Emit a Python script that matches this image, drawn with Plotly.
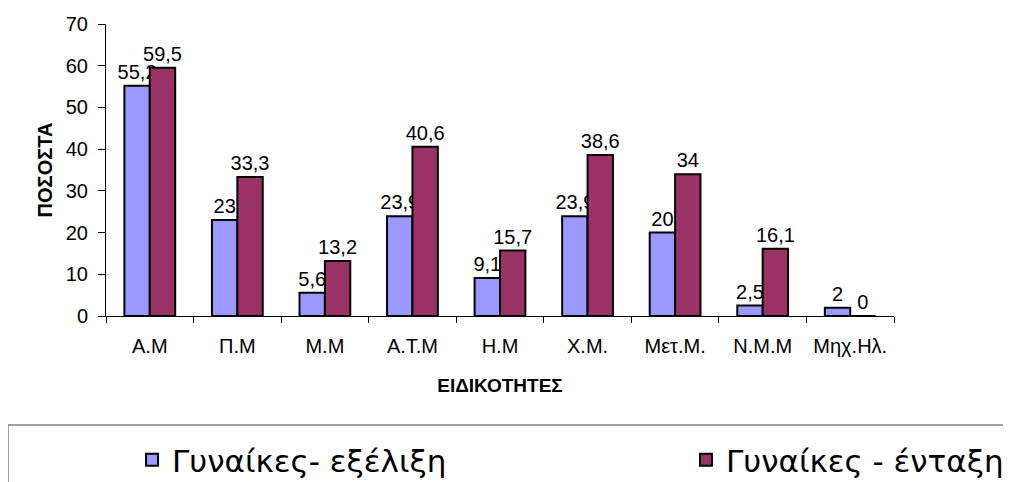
import plotly.graph_objects as go

categories = ["Α.Μ", "Π.Μ", "Μ.Μ", "Α.Τ.Μ", "Η.Μ", "Χ.Μ.", "Μετ.Μ.", "Ν.Μ.Μ", "Μηχ.Ηλ."]
exelixi = [55.2, 23, 5.6, 23.9, 9.1, 23.9, 20, 2.5, 2]
entaxi = [59.5, 33.3, 13.2, 40.6, 15.7, 38.6, 34, 16.1, 0]
y_ticks = [0, 10, 20, 30, 40, 50, 60, 70]


def fmt(v):
    return f"{v:g}".replace(".", ",")


FONT = "Liberation Sans, Arial, sans-serif"
LEG_FONT = "DejaVu Sans, Verdana, sans-serif"

fig = go.Figure()
fig.add_trace(go.Bar(
    x=categories, y=exelixi, name="Γυναίκες- εξέλιξη",
    marker=dict(color="#9999FF", line=dict(color="black", width=2)),
    text=[fmt(v) for v in exelixi], textposition="outside", constraintext="none",
    textfont=dict(size=20, color="black", family=FONT), cliponaxis=False,
    legend="legend",
))
fig.add_trace(go.Bar(
    x=categories, y=entaxi, name="Γυναίκες - ένταξη",
    marker=dict(color="#993366", line=dict(color="black", width=2)),
    text=[fmt(v) for v in entaxi], textposition="outside", constraintext="none",
    textfont=dict(size=20, color="black", family=FONT), cliponaxis=False,
    legend="legend2",
))

leg_common = dict(
    orientation="h", yref="container", xref="container",
    y=0.0622, yanchor="middle", xanchor="left",
    font=dict(size=31, family=LEG_FONT, color="black"),
    bgcolor="rgba(0,0,0,0)", borderwidth=0,
)

fig.update_layout(
    width=1011, height=482,
    margin=dict(l=98, r=125, t=16, b=174, autoexpand=False),
    paper_bgcolor="white", plot_bgcolor="white",
    barmode="group", bargap=0.42, bargroupgap=0,
    font=dict(family=FONT, size=20, color="black"),
    showlegend=True,
    legend=dict(x=0.1227, **leg_common),
    legend2=dict(x=0.6706, **leg_common),
)
fig.update_xaxes(
    showline=True, linecolor="black", linewidth=1,
    ticks="outside", tickson="boundaries", ticklen=6, tickcolor="black",
    tickfont=dict(size=20, family=FONT), ticklabelstandoff=12,
    title=dict(text="<b>ΕΙΔΙΚΟΤΗΤΕΣ</b>", font=dict(size=19, family=FONT), standoff=22),
    showgrid=False, automargin=False,
)
fig.update_yaxes(
    range=[0, 70], tickvals=y_ticks, showline=True, linecolor="black", linewidth=1,
    ticks="outside", ticklen=7, tickcolor="black",
    tickfont=dict(size=20, family=FONT), ticklabelstandoff=6,
    title=dict(text="<b>ΠΟΣΟΣΤΑ</b>", font=dict(size=20, family=FONT), standoff=7),
    showgrid=False, zeroline=False, automargin=False,
)
fig.add_shape(
    type="rect", xref="paper", yref="paper",
    x0=-0.1244, x1=1.3, y0=-0.373, y1=-0.8,
    line=dict(color="#808080", width=1.5), fillcolor="rgba(0,0,0,0)", layer="below",
)

fig.write_html("out.html")
